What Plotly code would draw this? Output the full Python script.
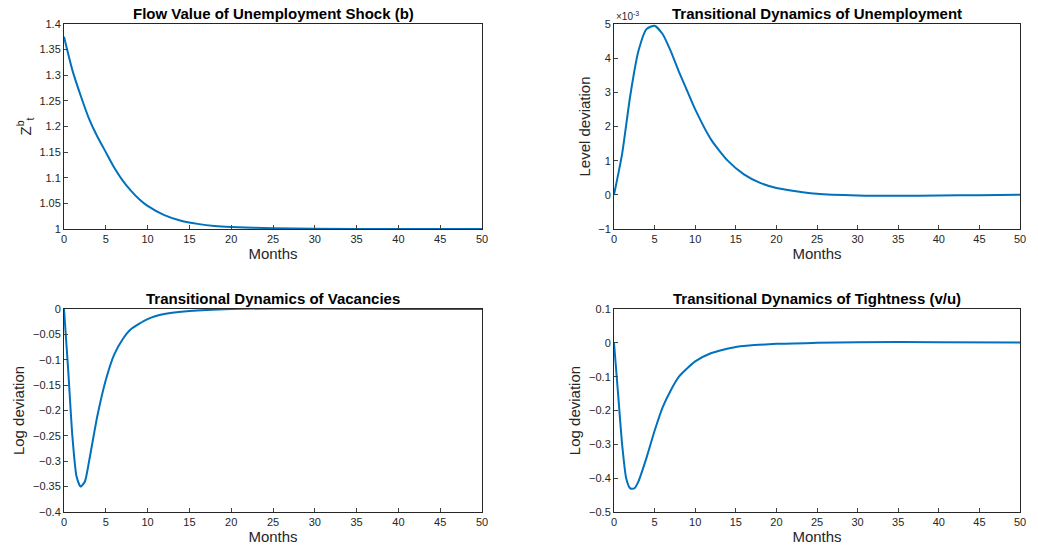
import plotly.graph_objects as go

# Flow value of unemployment shock
t_b = [0, 1, 2, 3, 4, 5, 6, 7, 8, 9, 10, 12, 14, 16, 18, 20, 25, 30, 40, 50]
z_b = [1.375, 1.31, 1.26, 1.215, 1.18, 1.15, 1.12, 1.095, 1.075, 1.058, 1.045,
       1.027, 1.016, 1.01, 1.006, 1.004, 1.0015, 1.0005, 1.0001, 1.0]

# Unemployment, level deviation (x 1e-3)
t_u = [0, 1, 2, 3, 4, 5, 6, 7, 8, 9, 10, 12, 14, 16, 18, 20, 25, 30, 35, 40, 45, 50]
u_dev = [0, 1.2, 2.9, 4.2, 4.85, 4.95, 4.7, 4.2, 3.6, 3.05, 2.5, 1.6, 1.0, 0.6,
         0.35, 0.2, 0.03, -0.02, -0.03, -0.02, -0.01, 0]

# Vacancies, log deviation
t_v = [0, 0.5, 1, 1.5, 2, 2.5, 3, 4, 5, 6, 7, 8, 10, 12, 15, 20, 25, 30, 40, 50]
v_dev = [0, -0.12, -0.25, -0.33, -0.35, -0.34, -0.3, -0.21, -0.14, -0.09, -0.06,
         -0.04, -0.02, -0.01, -0.004, 0, 0.001, 0.001, 0, 0]

# Tightness, log deviation
t_th = [0, 0.5, 1, 1.5, 2, 2.5, 3, 4, 5, 6, 7, 8, 10, 12, 15, 20, 25, 30, 40, 50]
th_dev = [0, -0.15, -0.3, -0.4, -0.43, -0.43, -0.41, -0.34, -0.26, -0.19, -0.14,
          -0.1, -0.055, -0.03, -0.012, -0.003, 0, 0.002, 0.002, 0.001]

blue = '#0072BD'
font = 'Liberation Sans, Arial'

fig = go.Figure()
series = [(t_b, z_b), (t_u, u_dev), (t_v, v_dev), (t_th, th_dev)]
for i, (x, y) in enumerate(series):
    n = '' if i == 0 else str(i + 1)
    fig.add_trace(go.Scatter(x=x, y=y, mode='lines',
                             line=dict(color=blue, width=2, shape='spline', smoothing=0.6),
                             xaxis='x' + n, yaxis='y' + n, showlegend=False))

# page body adds an 8px offset; figure is sized to fit the visible window
W, H, off = 1030, 550, 8
xl = [(64 - off) / W, (482 - off) / W]
xr = [(614 - off) / W, (1020 - off) / W]
yt = [1 - (229 - off) / H, 1 - (24 - off) / H]
yb = [1 - (512 - off) / H, 1 - (309 - off) / H]

def xax(dom, anchor):
    return dict(domain=dom, anchor=anchor, range=[0, 50], dtick=5, showgrid=False, zeroline=False,
                showline=True, mirror=True, linecolor='#262626', ticks='inside', ticklen=4,
                automargin=False, tickfont=dict(size=11, color='#262626'),
                title=dict(text='Months', font=dict(size=15, color='#262626'), standoff=2))

def yax(dom, anchor, rng, dt, title):
    return dict(domain=dom, anchor=anchor, range=rng, dtick=dt, showgrid=False, zeroline=False,
                showline=True, mirror=True, linecolor='#262626', ticks='inside', ticklen=4,
                automargin=False, tickfont=dict(size=11, color='#262626'),
                title=dict(text=title, font=dict(size=15, color='#262626'), standoff=4))

fig.update_layout(
    width=W, height=H, autosize=False, margin=dict(l=0, r=0, t=0, b=0),
    plot_bgcolor='white', paper_bgcolor='white', font=dict(family=font),
    xaxis=xax(xl, 'y'), yaxis=yax(yt, 'x', [1, 1.4], 0.05, 'Z<sup>b</sup><sub>t</sub>'),
    xaxis2=xax(xr, 'y2'), yaxis2=yax(yt, 'x2', [-1, 5], 1, 'Level deviation'),
    xaxis3=xax(xl, 'y3'), yaxis3=yax(yb, 'x3', [-0.4, 0], 0.05, 'Log deviation'),
    xaxis4=xax(xr, 'y4'), yaxis4=yax(yb, 'x4', [-0.5, 0.1], 0.1, 'Log deviation'),
)

titles = [('Flow Value of Unemployment Shock (b)', xl, yt),
          ('Transitional Dynamics of Unemployment', xr, yt),
          ('Transitional Dynamics of Vacancies', xl, yb),
          ('Transitional Dynamics of Tightness (v/u)', xr, yb)]
for txt, xd, yd in titles:
    fig.add_annotation(text='<b>' + txt + '</b>', x=(xd[0] + xd[1]) / 2, y=yd[1], xref='paper', yref='paper',
                       xanchor='center', yanchor='bottom', showarrow=False, yshift=0,
                       font=dict(size=15, color='black'))
fig.add_annotation(text='\u00d710<sup>-3</sup>', x=xr[0], y=yt[1], xref='paper', yref='paper',
                   xanchor='left', yanchor='bottom', showarrow=False, font=dict(size=10, color='#262626'))

fig.write_html('out.html')
